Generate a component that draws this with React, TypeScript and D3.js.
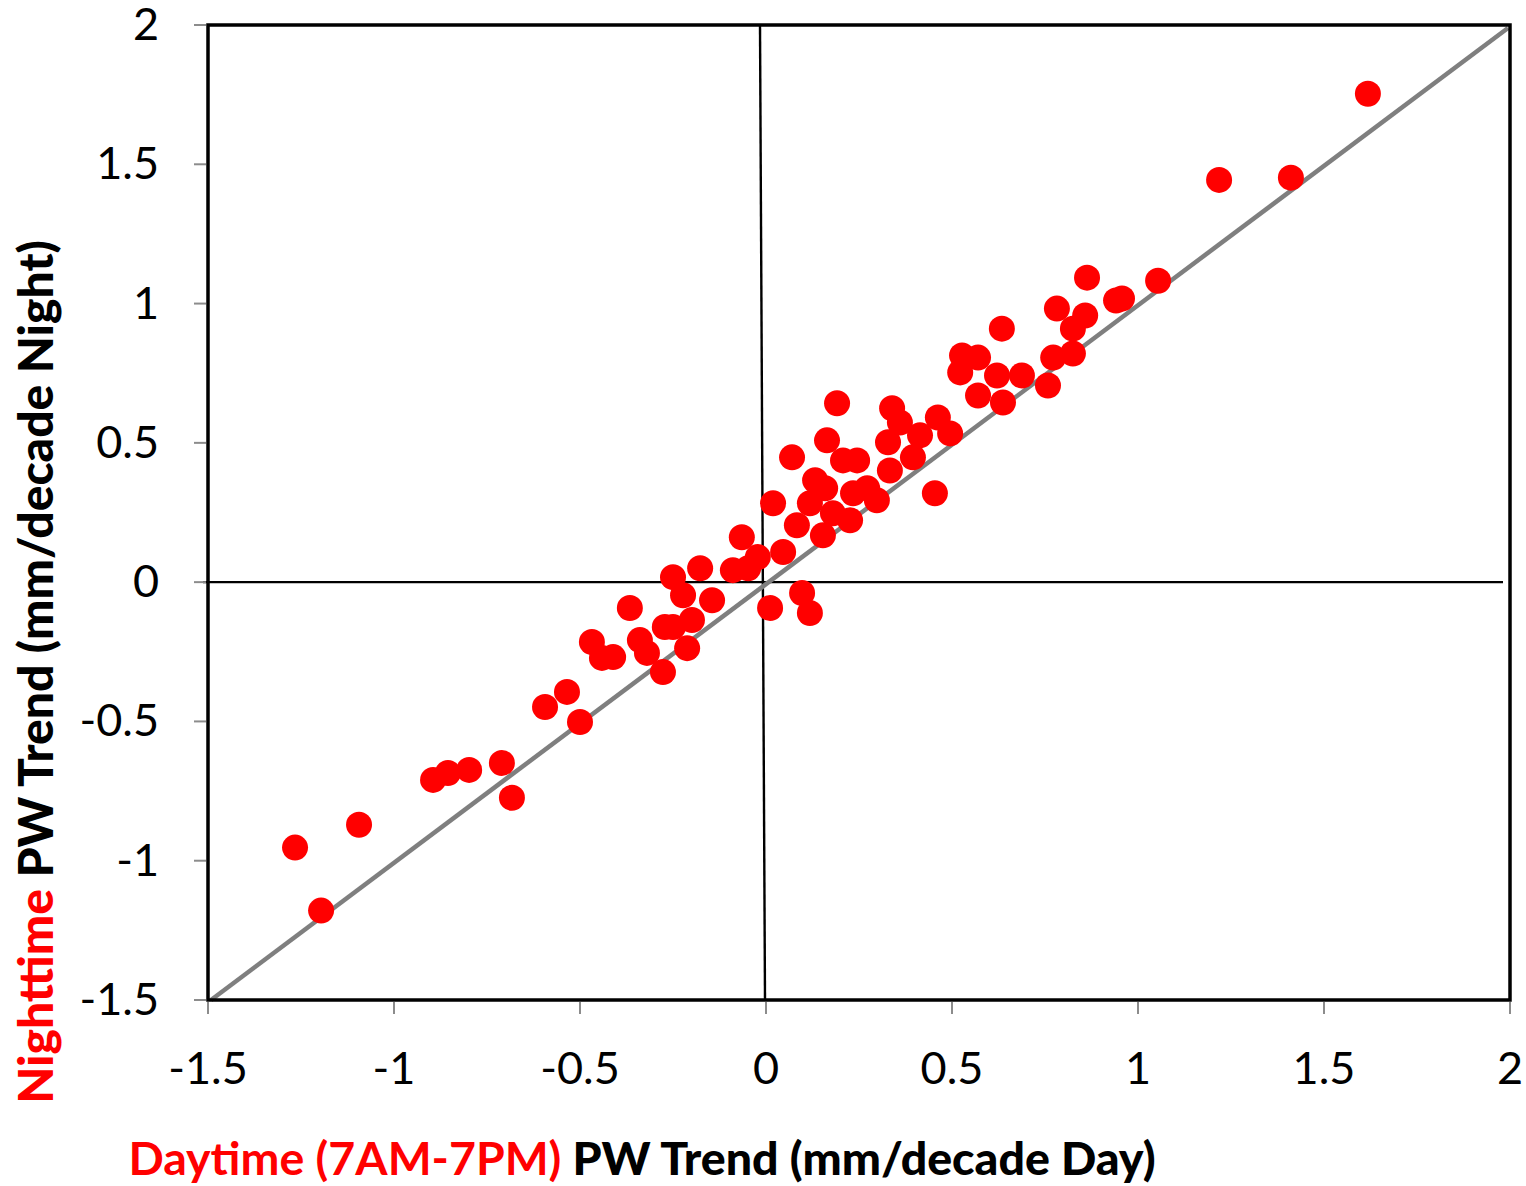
import React from "react";
import * as d3 from "d3";

const dayTrend: number[] = [
  1.618, 1.218, 1.411, 1.054, 0.863, 0.957, 0.941, 0.782, 0.858, 0.825, 0.634,
  0.772, 0.825, 0.527, 0.57, 0.522, 0.621, 0.688, 0.758, 0.57, 0.637, 0.462,
  0.191, 0.339, 0.36, 0.495, 0.414, 0.328, 0.164, 0.07, 0.207, 0.245, 0.395,
  0.454, 0.333, 0.019, 0.132, 0.159, 0.234, 0.272, 0.298, 0.118, 0.083, 0.153,
  0.226, 0.18, -0.065, 0.046, -0.022, -0.089, -0.048, -0.25, -0.177, -0.223,
  -0.145, 0.097, 0.118, 0.011, -0.366, -0.199, -0.272, -0.25, -0.339, -0.468,
  -0.32, -0.411, -0.441, -0.212, -0.277, -0.535, -0.594, -0.5, -0.71, -0.798,
  -0.855, -0.895, -0.683, -1.094, -1.266, -1.196,
];
const nightTrend: number[] = [
  1.753, 1.444, 1.452, 1.082, 1.093, 1.018, 1.011, 0.982, 0.957, 0.91, 0.91,
  0.806, 0.821, 0.814, 0.806, 0.753, 0.742, 0.742, 0.706, 0.67, 0.645, 0.591,
  0.642, 0.624, 0.573, 0.534, 0.527, 0.502, 0.509, 0.448, 0.437, 0.437, 0.448,
  0.319, 0.401, 0.283, 0.366, 0.337, 0.319, 0.337, 0.294, 0.283, 0.204, 0.168,
  0.222, 0.247, 0.161, 0.108, 0.09, 0.043, 0.05, 0.018, 0.05, -0.047, -0.065,
  -0.039, -0.111, -0.093, -0.093, -0.136, -0.161, -0.161, -0.208, -0.215,
  -0.254, -0.269, -0.272, -0.237, -0.323, -0.394, -0.448, -0.502, -0.649,
  -0.674, -0.685, -0.71, -0.774, -0.871, -0.953, -1.179,
];
const xTicks: number[] = [-1.5, -1, -0.5, 0, 0.5, 1, 1.5, 2];
const yTicks: number[] = [-1.5, -1, -0.5, 0, 0.5, 1, 1.5, 2];
const xTitleRed = "Daytime (7AM-7PM)";
const xTitleBlack = "PW Trend (mm/decade Day)";
const yTitleRed = "Nighttime";
const yTitleBlack = "PW Trend (mm/decade Night)";

const W = 1526;
const H = 1186;
const left = 208;
const right = 1510;
const top = 25;
const bottom = 1000;

export default function App() {
  const x = d3.scaleLinear().domain([-1.5, 2]).range([left, right]);
  const y = d3.scaleLinear().domain([-1.5, 2]).range([bottom, top]);
  const font = "Lato, 'Open Sans', sans-serif";
  const pts = dayTrend.map((d, i) => [d, nightTrend[i]] as [number, number]);
  const x0 = x(0);
  const y0 = y(0);
  return (
    <svg
      width={W}
      height={H}
      style={{ position: "absolute", left: 0, top: 0, background: "#fff" }}
      fontFamily={font}
    >
      <rect x={0} y={0} width={W} height={H} fill="#fff" />
      {/* zero lines */}
      <line x1={left - 5} x2={right - 7} y1={y0} y2={y0} stroke="#000" strokeWidth={2.2} />
      <line x1={x0 - 6} x2={x0 - 1} y1={top} y2={bottom} stroke="#000" strokeWidth={2.4} />
      {/* 1:1 line */}
      <line
        x1={x(-1.5) + 3}
        y1={y(-1.5)}
        x2={x(2) - 2}
        y2={y(2) + 3}
        stroke="#7f7f7f"
        strokeWidth={4.5}
      />
      {/* points */}
      {pts.map((p, i) => (
        <circle key={i} cx={x(p[0])} cy={y(p[1])} r={13} fill="#ff0000" />
      ))}
      {/* frame */}
      <rect
        x={left}
        y={top}
        width={right - left}
        height={bottom - top}
        fill="none"
        stroke="#000"
        strokeWidth={3.5}
      />
      {/* x ticks */}
      {xTicks.map((t) => (
        <g key={"x" + t}>
          <line x1={x(t)} x2={x(t)} y1={bottom + 2} y2={bottom + 14} stroke="#8c8c8c" strokeWidth={2} />
          <text x={x(t)} y={1084} textAnchor="middle" fontSize={45} fill="#000">
            {String(t)}
          </text>
        </g>
      ))}
      {/* y ticks */}
      {yTicks.map((t) => (
        <g key={"y" + t}>
          <line x1={left - 14} x2={left - 2} y1={y(t)} y2={y(t)} stroke="#8c8c8c" strokeWidth={2} />
          <text x={159} y={y(t) + 15} textAnchor="end" fontSize={45} fill="#000">
            {String(t)}
          </text>
        </g>
      ))}
      {/* x title */}
      <text x={642} y={1175} textAnchor="middle" fontSize={46.5} fontWeight={900}>
        <tspan fill="#ff0000" fontWeight={700}>{xTitleRed}</tspan>
        <tspan fill="#000"> {xTitleBlack}</tspan>
      </text>
      {/* y title */}
      <text
        transform="translate(53,672) rotate(-90)"
        textAnchor="middle"
        fontSize={48}
        fontWeight={900}
      >
        <tspan fill="#ff0000">{yTitleRed}</tspan>
        <tspan fill="#000"> {yTitleBlack}</tspan>
      </text>
    </svg>
  );
}
